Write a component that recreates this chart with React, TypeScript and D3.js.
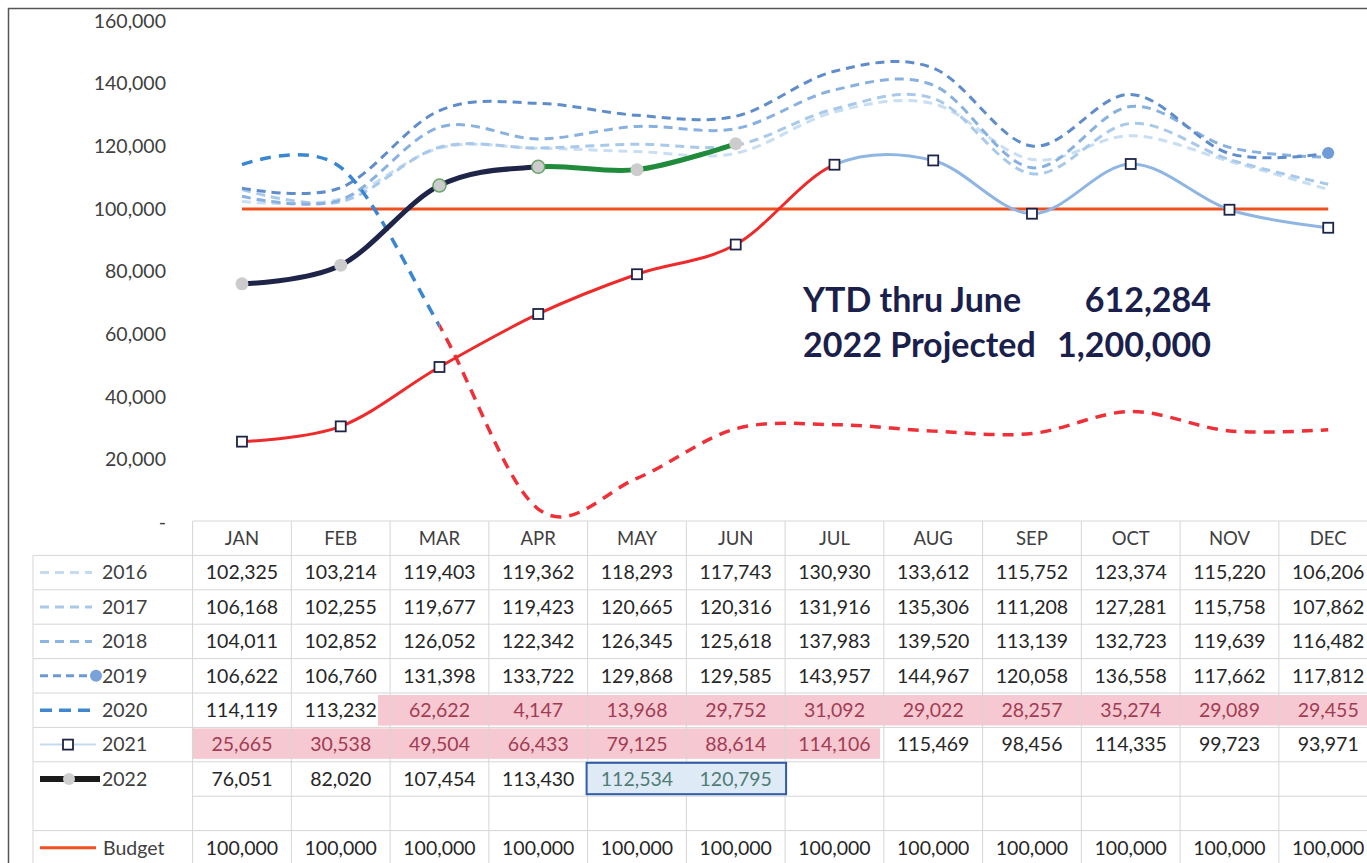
import React from "react";
import * as d3 from "d3";

const months = ["JAN","FEB","MAR","APR","MAY","JUN","JUL","AUG","SEP","OCT","NOV","DEC"];
const s2016 = [102325,103214,119403,119362,118293,117743,130930,133612,115752,123374,115220,106206];
const s2017 = [106168,102255,119677,119423,120665,120316,131916,135306,111208,127281,115758,107862];
const s2018 = [104011,102852,126052,122342,126345,125618,137983,139520,113139,132723,119639,116482];
const s2019 = [106622,106760,131398,133722,129868,129585,143957,144967,120058,136558,117662,117812];
const s2020 = [114119,113232,62622,4147,13968,29752,31092,29022,28257,35274,29089,29455];
const s2021 = [25665,30538,49504,66433,79125,88614,114106,115469,98456,114335,99723,93971];
const s2022 = [76051,82020,107454,113430,112534,120795];
const budget = [100000,100000,100000,100000,100000,100000,100000,100000,100000,100000,100000,100000];
const yTicks = [0,20000,40000,60000,80000,100000,120000,140000,160000];
const ytdLabel = "YTD thru June";
const ytdValue = "612,284";
const projLabel = "2022 Projected";
const projValue = "1,200,000";

const FONT = "Lato, 'Open Sans', sans-serif";
const fmt = d3.format(",");

export default function App() {
  const W = 1367, H = 863;
  const colW = 98.75;
  const tableX0 = 192.6;
  const x = d3.scalePoint<string>().domain(months).range([tableX0 + colW / 2, tableX0 + colW * 11.5]);
  const y = d3.scaleLinear().domain([0, 160000]).range([522, 21]);
  const line = d3.line<number>()
    .x((_, i) => x(months[i]) as number)
    .y((d) => y(d))
    .curve(d3.curveCardinal.tension(0));

  const rowH = 34.4;
  const tableTop = 521;
  const rowTop = (r: number) => tableTop + r * rowH;
  const legendX0 = 33;

  const rows: { label: string; values: (number | null)[] }[] = [
    { label: "2016", values: s2016 },
    { label: "2017", values: s2017 },
    { label: "2018", values: s2018 },
    { label: "2019", values: s2019 },
    { label: "2020", values: s2020 },
    { label: "2021", values: s2021 },
    { label: "2022", values: months.map((_, i) => (i < s2022.length ? s2022[i] : null)) },
    { label: "", values: months.map(() => null) },
    { label: "Budget", values: budget },
  ];

  const xm = (i: number) => x(months[i]) as number;
  const colLeft = (i: number) => tableX0 + i * colW;

  const pinkFill = "#f6c8d2";
  const pinkText = "#a23c52";

  const legendSym = (label: string, cy: number) => {
    const x1 = 40, x2 = 96;
    switch (label) {
      case "2016":
        return <line x1={x1} x2={x2 - 4} y1={cy} y2={cy} stroke="#c5dcf0" strokeWidth={3} strokeDasharray="9 6" />;
      case "2017":
        return <line x1={x1} x2={x2 - 4} y1={cy} y2={cy} stroke="#a9c9ea" strokeWidth={3} strokeDasharray="9 6" />;
      case "2018":
        return <line x1={x1} x2={x2 - 4} y1={cy} y2={cy} stroke="#8db5e2" strokeWidth={3} strokeDasharray="9 6" />;
      case "2019":
        return (
          <g>
            <line x1={x1} x2={x2} y1={cy} y2={cy} stroke="#6d98d4" strokeWidth={3} strokeDasharray="8 5" />
            <circle cx={x2} cy={cy} r={6} fill="#7aa2da" />
          </g>
        );
      case "2020":
        return <line x1={x1} x2={x2 - 4} y1={cy} y2={cy} stroke="#3f88d0" strokeWidth={3.5} strokeDasharray="12 7" />;
      case "2021":
        return (
          <g>
            <line x1={x1} x2={x2} y1={cy} y2={cy} stroke="#c5dcf0" strokeWidth={2} />
            <rect x={63} y={cy - 5} width={10} height={10} fill="#fff" stroke="#1e2448" strokeWidth={1.8} />
          </g>
        );
      case "2022":
        return (
          <g>
            <line x1={x1} x2={x2 + 4} y1={cy} y2={cy} stroke="#1b1b1b" strokeWidth={6} />
            <circle cx={69} cy={cy} r={6} fill="#cfcfcf" />
          </g>
        );
      case "Budget":
        return <line x1={x1} x2={x2} y1={cy} y2={cy} stroke="#f0501e" strokeWidth={3} />;
      default:
        return null;
    }
  };

  const splitX2020 = xm(2);
  const splitX2021 = xm(6);
  const splitX2022 = xm(3);

  return (
    <svg width={W} height={H} style={{ position: "absolute", left: 0, top: 0, background: "#fff" }} fontFamily={FONT}>
      <defs>
        <clipPath id="c2020a"><rect x={0} y={0} width={splitX2020} height={H} /></clipPath>
        <clipPath id="c2020b"><rect x={splitX2020} y={0} width={W} height={H} /></clipPath>
        <clipPath id="c2021a"><rect x={0} y={0} width={splitX2021} height={H} /></clipPath>
        <clipPath id="c2021b"><rect x={splitX2021} y={0} width={W} height={H} /></clipPath>
        <clipPath id="c2022a"><rect x={0} y={0} width={splitX2022} height={H} /></clipPath>
        <clipPath id="c2022b"><rect x={splitX2022} y={0} width={W} height={H} /></clipPath>
      </defs>
      <rect x={0} y={0} width={W} height={H} fill="#fff" />
      <path d={`M8.5,${H} L8.5,8.5 L${W},8.5`} fill="none" stroke="#555" strokeWidth={1.5} />

      {yTicks.map((t) => (
        <text key={t} x={166} y={y(t)} dy="0.35em" textAnchor="end" fontSize={19.5} fill="#404040">
          {t === 0 ? "-" : fmt(t)}
        </text>
      ))}

      <rect x={378} y={rowTop(5) + 2} width={W - 378} height={rowH - 4} fill={pinkFill} />
      <rect x={colLeft(0)} y={rowTop(6) + 1} width={880 - colLeft(0)} height={rowH - 4} fill={pinkFill} />

      <g stroke="#d6d6d6" strokeWidth={1}>
        {d3.range(1, 11).map((r) => (
          <line key={"h" + r} x1={r === 8 ? tableX0 : legendX0} x2={W} y1={rowTop(r)} y2={rowTop(r)} />
        ))}
        <line x1={tableX0} x2={W} y1={tableTop} y2={tableTop} />
        <line x1={legendX0} x2={legendX0} y1={rowTop(1)} y2={H} />
        {d3.range(0, 12).map((c) => (
          <line key={"v" + c} x1={colLeft(c)} x2={colLeft(c)} y1={tableTop} y2={H} />
        ))}
      </g>
      <rect x={colLeft(4) - 1} y={rowTop(7) + 1} width={colW * 2 + 2} height={rowH - 3} fill="#deebf6" stroke="#2f5ba8" strokeWidth={2} />

      {months.map((m, i) => (
        <text key={m} x={xm(i)} y={rowTop(0) + rowH / 2} dy="0.35em" textAnchor="middle" fontSize={18.5} fill="#404040">
          {m}
        </text>
      ))}

      {rows.map((row, r) => {
        const top = rowTop(r + 1);
        const cy = top + rowH / 2;
        return (
          <g key={"r" + r}>
            {legendSym(row.label, cy)}
            {row.label && (
              <text x={row.label === "Budget" ? 103 : 102} y={cy} dy="0.35em" fontSize={19.5} fill="#404040">
                {row.label}
              </text>
            )}
            {row.values.map((v, i) => {
              if (v === null) return null;
              let fill = "#262626";
              if ((row.label === "2020" && i >= 2) || (row.label === "2021" && i <= 6)) fill = pinkText;
              if (row.label === "2022" && i >= 4) fill = "#4f7c74";
              return (
                <text key={i} x={xm(i)} y={cy} dy="0.35em" textAnchor="middle" fontSize={19.5} fill={fill}>
                  {fmt(v)}
                </text>
              );
            })}
          </g>
        );
      })}
      <rect x={378} y={rowTop(5) + 2} width={colLeft(2) - 378} height={rowH - 4} fill={pinkFill} />

      <path d={line(s2016) as string} fill="none" stroke="#c8def2" strokeWidth={3} strokeDasharray="9 6" />
      <path d={line(s2017) as string} fill="none" stroke="#a9c9ea" strokeWidth={3} strokeDasharray="9 6" />
      <path d={line(s2018) as string} fill="none" stroke="#88b1e0" strokeWidth={3} strokeDasharray="9 6" />
      <path d={line(s2019) as string} fill="none" stroke="#5f8dcc" strokeWidth={3} strokeDasharray="9 6" />
      <circle cx={xm(11)} cy={y(s2019[11])} r={6} fill="#6f9bd6" />

      <path d={line(budget) as string} fill="none" stroke="#f0501e" strokeWidth={3} />

      <path d={line(s2020) as string} fill="none" stroke="#3a86d0" strokeWidth={3.5} strokeDasharray="11 8" clipPath="url(#c2020a)" />
      <path d={line(s2020) as string} fill="none" stroke="#ee3038" strokeWidth={3.5} strokeDasharray="11 8" clipPath="url(#c2020b)" />

      <path d={line(s2021) as string} fill="none" stroke="#ee2a2a" strokeWidth={3} clipPath="url(#c2021a)" />
      <path d={line(s2021) as string} fill="none" stroke="#8fb6e3" strokeWidth={3} clipPath="url(#c2021b)" />
      {s2021.map((v, i) => (
        <rect key={"m21" + i} x={xm(i) - 5} y={y(v) - 5} width={10} height={10} fill="#fff" stroke="#1e2448" strokeWidth={1.8} />
      ))}

      <path d={line(s2022) as string} fill="none" stroke="#1f2449" strokeWidth={5} clipPath="url(#c2022a)" />
      <path d={line(s2022) as string} fill="none" stroke="#1f8b3b" strokeWidth={5} clipPath="url(#c2022b)" />
      {s2022.map((v, i) => (
        <circle key={"m22" + i} cx={xm(i)} cy={y(v)} r={6.5} fill="#cccccc" stroke={i === 2 || i === 3 ? "#6aa56a" : "none"} strokeWidth={1.5} />
      ))}

      <g fontWeight={700} fontSize={34} fill="#1b1f4b">
        <text x={803} y={312}>{ytdLabel}</text>
        <text x={1211} y={312} textAnchor="end">{ytdValue}</text>
        <text x={803} y={357}>{projLabel}</text>
        <text x={1211} y={357} textAnchor="end">{projValue}</text>
      </g>
    </svg>
  );
}
